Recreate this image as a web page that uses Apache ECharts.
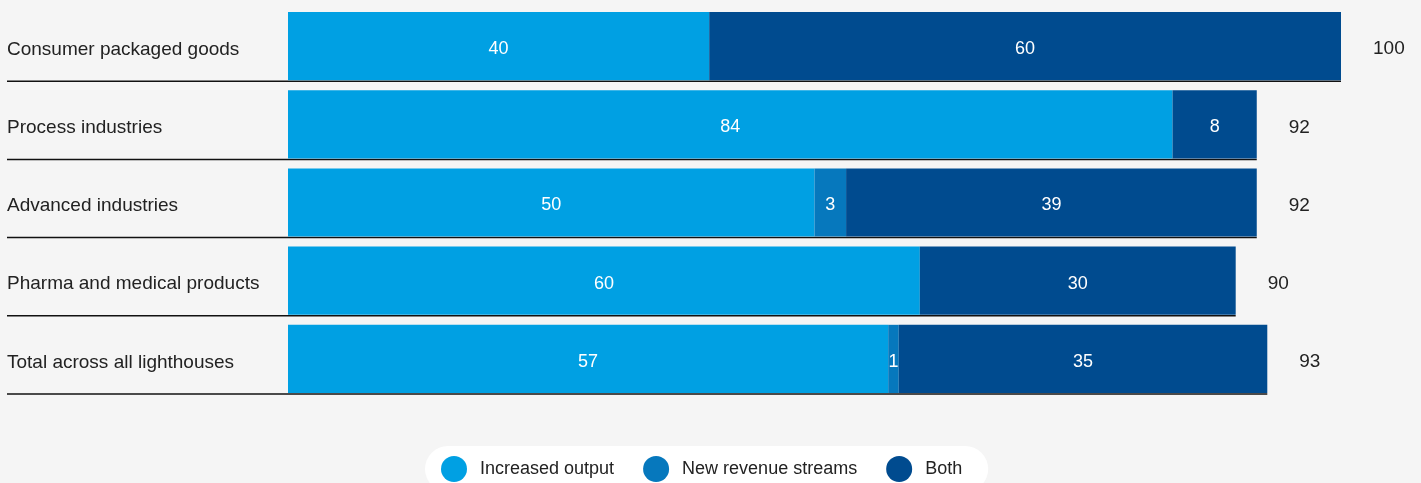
<!DOCTYPE html>
<html>
<head>
<meta charset="utf-8">
<script src="https://cdn.jsdelivr.net/npm/echarts@6/dist/echarts.min.js"></script>
<style>
html,body{margin:0;padding:0;background:#f5f5f5;}
#chart{width:1421px;height:483px;}
</style>
</head>
<body>
<div id="chart"></div>
<script>
const categories = ['Consumer packaged goods','Process industries','Advanced industries','Pharma and medical products','Total across all lighthouses'];
const increasedOutput = [40, 84, 50, 60, 57];
const newRevenueStreams = [0, 0, 3, 0, 1];
const both = [60, 8, 39, 30, 35];
const totals = [100, 92, 92, 90, 93];
const seriesNames = ['Increased output','New revenue streams','Both'];

const colors = ['#00a0e3', '#0678bd', '#004b8f'];
const FONT = '"Liberation Sans", Arial, Helvetica, sans-serif';
const BAR_FRAC = 0.872;

const chart = echarts.init(document.getElementById('chart'), null, {renderer:'canvas'});

function barSeries(name, data, color) {
  return {
    name: name,
    type: 'bar',
    stack: 'total',
    data: data,
    barCategoryGap: '12.8%',
    itemStyle: {color: color},
    label: {
      show: true,
      position: 'inside',
      color: '#ffffff',
      fontFamily: FONT,
      fontSize: 18,
      offset: [0, 3],
      formatter: p => p.value ? String(p.value) : ''
    },
    emphasis: {disabled: true},
    z: 3
  };
}

const option = {
  backgroundColor: '#f5f5f5',
  animation: false,
  grid: {left: 288, right: 80, top: 7, height: 391, containLabel: false},
  xAxis: {
    type: 'value', min: 0, max: 100,
    show: false
  },
  yAxis: {
    type: 'category',
    data: categories,
    inverse: true,
    axisLine: {show: false},
    axisTick: {show: false},
    splitLine: {show: false},
    axisLabel: {
      align: 'left',
      margin: 281,
      formatter: v => '{a|' + v + '}',
      rich: {
        a: {
          color: '#222222',
          fontFamily: FONT,
          fontSize: 19,
          padding: [7, 0, 0, 0]
        }
      }
    }
  },
  legend: {
    data: seriesNames,
    left: 425,
    top: 446,
    icon: 'circle',
    itemWidth: 26,
    itemHeight: 26,
    itemGap: 29,
    padding: [10, 26, 10, 16],
    backgroundColor: '#ffffff',
    borderRadius: 23,
    textStyle: {color: '#222222', fontFamily: FONT, fontSize: 18, padding: [0, 0, 0, 8]},
    selectedMode: false
  },
  series: [
    barSeries(seriesNames[0], increasedOutput, colors[0]),
    barSeries(seriesNames[1], newRevenueStreams, colors[1]),
    barSeries(seriesNames[2], both, colors[2]),
    {
      type: 'scatter',
      data: totals.map((t, i) => [t, i]),
      symbolSize: 0,
      silent: true,
      itemStyle: {opacity: 1},
      label: {
        show: true,
        position: 'right',
        distance: 32,
        offset: [0, 3],
        color: '#222222',
        fontFamily: FONT,
        fontSize: 19,
        formatter: p => String(p.value[0])
      },
      z: 4
    },
    {
      type: 'custom',
      silent: true,
      clip: false,
      data: totals.map((t, i) => [t, i]),
      renderItem: function (params, api) {
        const end = api.coord([api.value(0), api.value(1)]);
        const band = api.size([0, 1])[1];
        const y = end[1] + band * BAR_FRAC / 2 + 1;
        const x0 = params.coordSys.x - 281;
        return {
          type: 'line',
          shape: {x1: x0, y1: y, x2: end[0], y2: y},
          style: {stroke: '#111111', lineWidth: 1.5}
        };
      },
      z: 2
    }
  ]
};
chart.setOption(option);
</script>
</body>
</html>
